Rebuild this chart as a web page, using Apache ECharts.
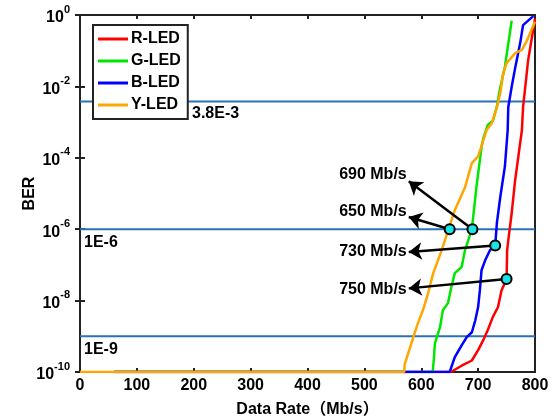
<!DOCTYPE html>
<html>
<head>
<meta charset="utf-8">
<script src="https://cdn.jsdelivr.net/npm/echarts@6/dist/echarts.min.js"></script>
<style>
  html, body { margin: 0; padding: 0; background: #fff; }
  #main { width: 552px; height: 419px; }
</style>
</head>
<body>
<div id="main"></div>
<script>
// data rate (Mb/s) and BER
var rRate = [60, 652, 671, 689, 700, 709, 717, 726, 735, 741, 750, 751, 753, 759, 765, 777, 779, 788, 800];
var rBer  = [1e-10, 1e-10, 1.5e-10, 2.1e-10, 4.1e-10, 7.8e-10, 1.5e-9, 3.5e-9, 6.6e-9, 1.9e-8, 4e-8, 2.5e-7, 4.9e-7, 2.8e-6, 2.3e-5, 6e-4, 2.6e-3, 5.5e-2, 0.79];

var gRate = [60, 620, 622, 624, 633, 638, 647, 653, 659, 671, 677, 689, 697, 706, 709, 717, 726, 733, 738, 747, 759];
var gBer  = [1e-10, 1e-10, 2.1e-10, 6.3e-10, 1.8e-9, 5.4e-9, 8.5e-9, 2.4e-8, 5.9e-8, 8.7e-8, 2.6e-7, 1e-6, 1.5e-5, 2e-4, 3.5e-4, 8.3e-4, 1.1e-3, 2.7e-3, 7.9e-3, 3.5e-2, 0.69];

var bRate = [60, 650, 659, 671, 680, 689, 695, 700, 703, 706, 712, 721, 730, 733, 739, 747, 752, 753, 759, 765, 774, 779, 797];
var bBer  = [1e-10, 1e-10, 2.6e-10, 5.6e-10, 9.5e-10, 1.3e-9, 2.8e-9, 6.6e-9, 1.9e-8, 7.1e-8, 1.3e-7, 2.6e-7, 3.5e-7, 1.5e-6, 8.1e-6, 5.6e-5, 6e-4, 2.6e-3, 9.8e-3, 3.2e-2, 0.166, 0.52, 0.93];

var yRate = [0, 570, 571, 577, 586, 594, 603, 612, 621, 636, 648, 659, 677, 689, 700, 715, 724, 733, 739, 744, 750, 765, 777, 785, 800];
var yBer  = [1e-10, 1e-10, 1.7e-10, 3.3e-10, 9.3e-10, 2.3e-9, 5.4e-9, 1.6e-8, 5.9e-8, 2.6e-7, 1e-6, 3.4e-6, 1.5e-5, 7.1e-5, 1.1e-4, 6e-4, 9.3e-4, 2.6e-3, 6.5e-3, 2.3e-2, 4.5e-2, 8.5e-2, 0.105, 0.18, 0.65];

var names = ['R-LED', 'G-LED', 'B-LED', 'Y-LED'];
var colors = ['#ff0000', '#00e600', '#0000ff', '#ffa500'];

// reference BER thresholds
var refBer = [3.8e-3, 1e-6, 1e-9];
var refText = ['3.8E-3', '1E-6', '1E-9'];

// marked points, arrow tips and their texts
var markRate = [650, 690, 730, 750];
var markBer  = [1e-6, 1e-6, 3.5e-7, 4e-8];
var tipRate  = [578, 578, 578, 578];
var tipBer   = [2.2e-6, 2.2e-5, 2.3e-7, 2.2e-8];
var markText = ['650 Mb/s', '690 Mb/s', '730 Mb/s', '750 Mb/s'];

var xTicks = [0, 800, 100];
var font = 'Liberation Sans, Arial, Noto Sans CJK SC, sans-serif';
var ink = '#000';

function pairs(xs, ys) {
  var out = [];
  for (var i = 0; i < xs.length; i++) out.push([xs[i], ys[i]]);
  return out;
}

var chart = echarts.init(document.getElementById('main'), null, { renderer: 'canvas' });

var series = [];

// threshold lines across the whole rate range
refBer.forEach(function (v, i) {
  series.push({
    name: 'ref' + i,
    type: 'line',
    data: pairs([xTicks[0], xTicks[1]], [v, v]),
    symbol: 'none',
    lineStyle: { color: '#2a72b8', width: 2 },
    silent: true,
    z: 2
  });
});

// texts under the threshold lines
series.push({
  name: 'refText',
  type: 'scatter',
  data: refBer.map(function (v, i) { return { value: [xTicks[0], v], name: refText[i] }; }),
  symbolSize: 0,
  silent: true,
  label: {
    show: true,
    position: [4, 5],
    formatter: function (p) { return p.name; },
    color: ink,
    opacity: 1,
    fontFamily: font,
    fontWeight: 'bold',
    fontSize: 16
  },
  z: 2
});
series[series.length - 1].data[0].label = { position: [112, 4] };

var all = [[rRate, rBer], [gRate, gBer], [bRate, bBer], [yRate, yBer]];
for (var k = 0; k < 4; k++) {
  series.push({
    name: names[k],
    type: 'line',
    data: pairs(all[k][0], all[k][1]),
    showSymbol: false,
    symbol: 'none',
    lineStyle: { color: colors[k], width: 2.5 },
    itemStyle: { color: colors[k] },
    z: 3
  });
}

// arrows
var arrowData = [];
for (var j = 0; j < markRate.length; j++) {
  arrowData.push({ coords: [[markRate[j], markBer[j]], [tipRate[j], tipBer[j]]] });
}
series.push({
  name: 'arrows',
  type: 'lines',
  coordinateSystem: 'cartesian2d',
  data: arrowData,
  symbol: ['none', 'arrow'],
  symbolSize: [0, 13],
  lineStyle: { color: '#000', width: 2.5, opacity: 1 },
  silent: true,
  z: 4
});

// arrow texts (the upper two sit a little above their arrow tips)
var textShift = [[0, -5], [0, -7], [0, 0], [0, 1]];
series.push({
  name: 'texts',
  type: 'scatter',
  data: tipRate.map(function (x, i) {
    return { value: [x, tipBer[i]], name: markText[i], label: { offset: textShift[i] } };
  }),
  symbolSize: 0,
  silent: true,
  label: {
    show: true,
    position: 'left',
    distance: 2,
    formatter: function (p) { return p.name; },
    color: ink,
    opacity: 1,
    fontFamily: font,
    fontWeight: 'bold',
    fontSize: 16
  },
  z: 5
});

// cyan markers
series.push({
  name: 'marks',
  type: 'scatter',
  data: pairs(markRate, markBer),
  symbol: 'circle',
  symbolSize: 10,
  itemStyle: { color: '#19e3e3', borderColor: '#000', borderWidth: 2, opacity: 1 },
  z: 6
});

function supLabel(v) {
  return '{b|10}{s|' + Math.round(Math.log10(v)) + '}';
}

var labelRich = {
  b: { fontSize: 16, fontWeight: 'bold', color: ink, fontFamily: font, lineHeight: 22, verticalAlign: 'bottom' },
  s: { fontSize: 11, fontWeight: 'bold', color: ink, fontFamily: font, verticalAlign: 'top' }
};

chart.setOption({
  animation: false,
  backgroundColor: '#fff',
  grid: {
    left: 80, right: 17, top: 15, bottom: 47,
    outerBoundsMode: 'none',
    show: true, borderColor: '#222', borderWidth: 2
  },
  legend: {
    data: names,
    orient: 'vertical',
    left: 93,
    top: 25,
    backgroundColor: '#fff',
    borderColor: '#222',
    borderWidth: 2,
    borderRadius: 0,
    padding: [6, 7, 6, 5],
    itemGap: 6,
    itemWidth: 30,
    itemHeight: 3,
    icon: 'rect',
    textStyle: { color: ink, fontFamily: font, fontWeight: 'bold', fontSize: 16, padding: [0, 0, 0, -2] }
  },
  xAxis: [{
    type: 'value',
    min: xTicks[0],
    max: xTicks[1],
    interval: xTicks[2],
    name: 'Data Rate（Mb/s）',
    nameLocation: 'middle',
    nameGap: 30,
    nameTextStyle: { color: ink, fontFamily: font, fontWeight: 'bold', fontSize: 16 },
    axisLine: { lineStyle: { color: '#222', width: 2 } },
    axisTick: { inside: true, length: 4, lineStyle: { color: '#222', width: 2 } },
    axisLabel: { color: ink, fontFamily: font, fontWeight: 'bold', fontSize: 16, margin: 6 },
    splitLine: { show: false }
  }, {
    type: 'value',
    position: 'top',
    min: xTicks[0],
    max: xTicks[1],
    interval: xTicks[2],
    axisLine: { lineStyle: { color: '#222', width: 2 } },
    axisTick: { inside: true, length: 4, lineStyle: { color: '#222', width: 2 } },
    axisLabel: { show: false },
    splitLine: { show: false }
  }],
  yAxis: [{
    type: 'log',
    logBase: 10,
    min: 1e-10,
    max: 1,
    interval: 2,
    name: 'BER',
    nameLocation: 'middle',
    nameGap: 42,
    nameMoveOverlap: false,
    nameTextStyle: { color: ink, fontFamily: font, fontWeight: 'bold', fontSize: 16 },
    axisLine: { lineStyle: { color: '#222', width: 2 } },
    axisTick: { inside: true, length: 5, lineStyle: { color: '#222', width: 2 } },
    axisLabel: { formatter: supLabel, rich: labelRich, margin: 10 },
    splitLine: { show: false },
    minorTick: { show: false }
  }, {
    type: 'log',
    logBase: 10,
    position: 'right',
    min: 1e-10,
    max: 1,
    interval: 2,
    axisLine: { lineStyle: { color: '#222', width: 2 } },
    axisTick: { inside: true, length: 5, lineStyle: { color: '#222', width: 2 } },
    axisLabel: { show: false },
    splitLine: { show: false }
  }],
  series: series
});
</script>
</body>
</html>
